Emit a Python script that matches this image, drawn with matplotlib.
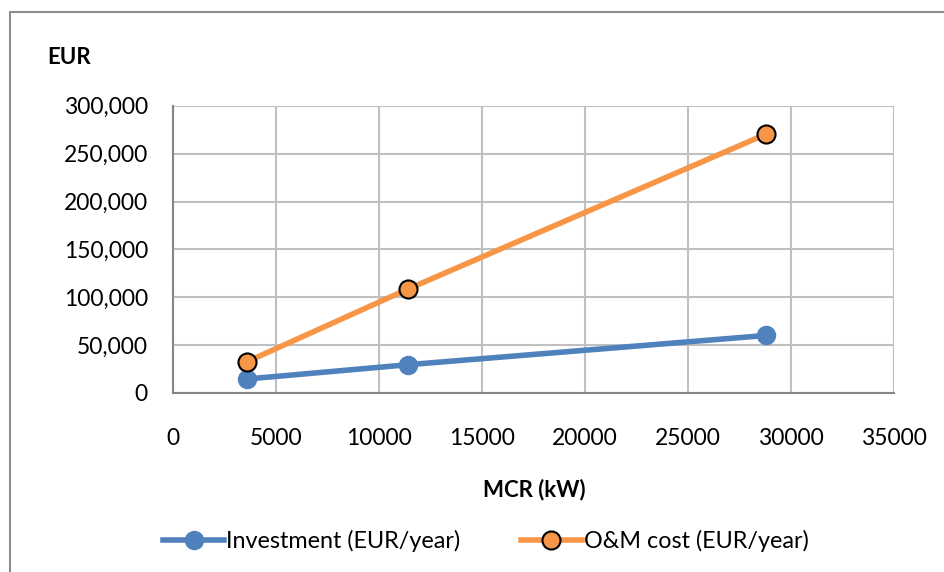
import numpy as np
import matplotlib.pyplot as plt
from matplotlib.patches import Rectangle
from matplotlib.ticker import FuncFormatter

plt.rcParams['font.family'] = ['Lato', 'DejaVu Sans']

mcr = [3600, 11400, 28800]
investment = [14600, 29500, 60100]
om_cost = [32700, 108500, 270500]

xticks = np.arange(0, 35001, 5000)
yticks = np.arange(0, 300001, 50000)

fig = plt.figure(figsize=(9.45, 5.72), dpi=100)
ax = fig.add_axes([0.183, 0.313, 0.763, 0.502])

# chart frame (cut at right/bottom like the original)
fig.patches.append(Rectangle((10/945, -0.1), 1.2, 1.1 - 12/572, transform=fig.transFigure,
                             fill=False, edgecolor='#8c8c8c', linewidth=1.5))

ax.plot(mcr, investment, color='#4f81bd', linewidth=4, marker='o', markersize=13,
        markerfacecolor='#4f81bd', markeredgecolor='#4f81bd', label='Investment (EUR/year)',
        zorder=3, clip_on=False)
ax.plot(mcr, om_cost, color='#f79646', linewidth=4, marker='o', markersize=13,
        markerfacecolor='#f79646', markeredgecolor='black', markeredgewidth=1.5,
        label='O&M cost (EUR/year)', zorder=3, clip_on=False)

ax.set_xlim(0, 35000)
ax.set_ylim(0, 300000)
ax.set_xticks(xticks)
ax.set_yticks(yticks)
ax.yaxis.set_major_formatter(FuncFormatter(lambda v, p: f'{int(v):,}'))
ax.tick_params(length=0, labelsize=16.5)
ax.tick_params(axis='y', pad=18)
ax.tick_params(axis='x', pad=25)
ax.grid(True, color='#c0c0c0', linewidth=1.5)
ax.set_axisbelow(True)
for s in ['top', 'right']:
    ax.spines[s].set_visible(False)
for s in ['left', 'bottom']:
    ax.spines[s].set_color('#868686')
    ax.spines[s].set_linewidth(1.5)

fig.text(47/945, 1 - 57/572, 'EUR', fontsize=16, fontweight='bold', ha='left', va='center')
fig.text(534/945, 1 - 490/572, 'MCR (kW)', fontsize=16, fontweight='bold', ha='center', va='center')

fig.legend(loc='center', bbox_to_anchor=(486/945, 1 - 541/572), ncol=2, frameon=False,
           fontsize=16.8, handlelength=2.6, handletextpad=0.1, columnspacing=2.6)

fig.savefig('out.png', dpi=100)
